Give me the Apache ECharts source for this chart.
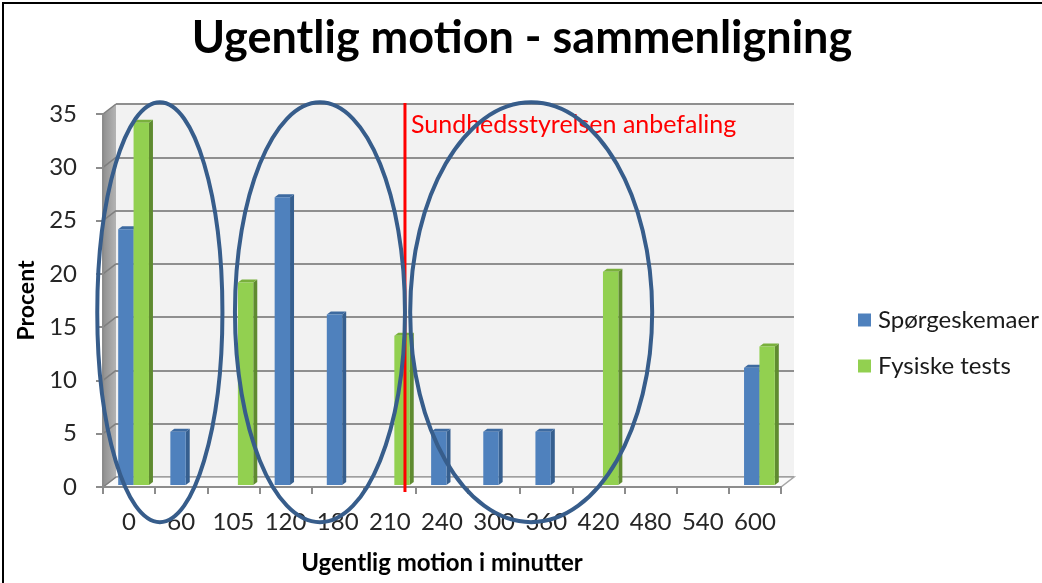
<!DOCTYPE html>
<html>
<head>
<meta charset="utf-8">
<title>Ugentlig motion - sammenligning</title>
<script src="https://cdn.jsdelivr.net/npm/echarts@6/dist/echarts.min.js"></script>
<style>
  html, body { margin: 0; padding: 0; background: #ffffff; }
  #chart { width: 1042px; height: 583px; }
</style>
</head>
<body>
<div id="chart"></div>
<script>
// Weekly exercise categories (minutes per week)
const categories = ['0', '60', '105', '120', '180', '210', '240', '300', '360', '420', '480', '540', '600'];
// Share of respondents (%) per category; null = no column
const sporgeskemaer = [24, 5, null, 27, 16, null, 5, 5, 5, null, null, null, 11];
const fysiskeTests  = [34, null, 19, null, null, 14, null, null, null, 20, null, null, 13];
const seriesNames = ['Spørgeskemaer', 'Fysiske tests'];
// Value axis
const yMin = 0, yMax = 35, yStep = 5;
// Recommendation marker (position on the category axis, between 210 and 240)
const recommendationPos = 5.29;
const recommendationText = 'Sundhedsstyrelsen anbefaling';
// Hand-drawn rings: centre / half-width in category units, centre / half-height in percent
const ringCentre = [0.59, 3.66, 7.71];
const ringHalfWidth = [1.20, 1.63, 2.32];
const ringMidValue = 16.4;
const ringHalfValue = 19.7;

const FONT = 'Lato';
const GRID = { left: 103, top: 114, width: 678, height: 373 };
const DEPTH = { x: 13, y: -10 };
const BAR_SHIFT = { x: 4.5, y: -2 };
const FACE = { d: 4, dz: 3 };

const palette = [
  { front: '#4f81bd', side: '#365f8f', top: '#3d6aa0' },
  { front: '#92d050', side: '#5f8b30', top: '#79b03c' }
];

function barRenderer(pos) {
  const c = palette[pos];
  return function (params, api) {
    const v = api.value(1);
    if (v == null || isNaN(v)) return null;
    const idx = api.value(0);
    const base = api.coord([idx, 0]);
    const topPt = api.coord([idx, v]);
    const band = api.size([1, 0])[0];
    const w = band * 0.295;
    const x0 = base[0] + BAR_SHIFT.x + (pos - 1) * w;
    const x1 = x0 + w;
    const yb = base[1] + BAR_SHIFT.y;
    const yt = topPt[1] + BAR_SHIFT.y;
    const d = FACE.d, dz = FACE.dz;
    return {
      type: 'group',
      children: [
        { type: 'polygon', shape: { points: [[x1, yb], [x1 + d, yb - dz], [x1 + d, yt - dz], [x1, yt]] }, style: { fill: c.side } },
        { type: 'polygon', shape: { points: [[x0, yt], [x0 + d, yt - dz], [x1 + d, yt - dz], [x1, yt]] }, style: { fill: c.top } },
        { type: 'rect', shape: { x: x0, y: yt, width: w, height: yb - yt }, style: { fill: c.front } }
      ]
    };
  };
}

function toPairs(arr) {
  return arr.map(function (v, i) { return [i, v == null ? '-' : v]; });
}

const chart = echarts.init(document.getElementById('chart'), null, { renderer: 'canvas' });

const option = {
  animation: false,
  backgroundColor: '#ffffff',
  textStyle: { fontFamily: FONT },
  title: {
    text: 'Ugentlig motion - sammenligning',
    left: 517, top: 11, textAlign: 'center',
    textStyle: { fontFamily: FONT, fontWeight: 'bold', fontSize: 45, color: '#000000' }
  },
  legend: {
    orient: 'vertical',
    left: 853, top: 303,
    itemWidth: 13, itemHeight: 13, itemGap: 22,
    icon: 'rect',
    data: seriesNames,
    textStyle: { fontFamily: FONT, fontSize: 24, color: '#1a1a1a', padding: [0, 0, 0, 2] }
  },
  grid: [
    { left: GRID.left, top: GRID.top, width: GRID.width, height: GRID.height, containLabel: false },
    { left: GRID.left + DEPTH.x, top: GRID.top + DEPTH.y, width: GRID.width, height: GRID.height,
      show: true, backgroundColor: '#f2f2f2', borderWidth: 0, z: 0 }
  ],
  xAxis: [
    {
      type: 'category', gridIndex: 0, data: categories,
      name: 'Ugentlig motion i minutter', nameLocation: 'middle', nameGap: 64,
      nameTextStyle: { fontFamily: FONT, fontWeight: 'bold', fontSize: 24, color: '#000000' },
      axisLine: { lineStyle: { color: '#8c8c8c', width: 2 } },
      axisTick: { show: true, interval: 0, length: 7, lineStyle: { color: '#8c8c8c', width: 2 } },
      axisLabel: { interval: 0, margin: 23, fontFamily: FONT, fontSize: 24, color: '#262626' },
      splitLine: { show: false }, z: 3
    },
    {
      type: 'category', gridIndex: 1, data: categories,
      axisLine: { show: false }, axisTick: { show: false }, axisLabel: { show: false }, splitLine: { show: false }
    }
  ],
  yAxis: [
    {
      type: 'value', gridIndex: 0, min: yMin, max: yMax, interval: yStep,
      name: 'Procent', nameLocation: 'middle', nameGap: 64, nameRotate: 90,
      nameTextStyle: { fontFamily: FONT, fontWeight: 'bold', fontSize: 23, color: '#000000' },
      axisLine: { show: true, lineStyle: { color: '#8c8c8c', width: 2 } },
      axisTick: { show: true, length: 7, lineStyle: { color: '#8c8c8c', width: 2 } },
      axisLabel: { margin: 26, fontFamily: FONT, fontSize: 24, color: '#262626' },
      splitLine: { show: false }, z: 3
    },
    {
      type: 'value', gridIndex: 1, min: yMin, max: yMax, interval: yStep,
      axisLine: { show: false }, axisTick: { show: false }, axisLabel: { show: false },
      splitLine: { show: true, lineStyle: { color: '#8f8f8f', width: 2 } }
    }
  ],
  series: [
    {
      name: seriesNames[0], type: 'custom', xAxisIndex: 0, yAxisIndex: 0,
      renderItem: barRenderer(0), encode: { x: 0, y: 1 },
      itemStyle: { color: palette[0].front }, data: toPairs(sporgeskemaer), z: 5
    },
    {
      name: seriesNames[1], type: 'custom', xAxisIndex: 0, yAxisIndex: 0,
      renderItem: barRenderer(1), encode: { x: 0, y: 1 },
      itemStyle: { color: palette[1].front }, data: toPairs(fysiskeTests), z: 6
    }
  ]
};

chart.setOption(option);

// Walls, recommendation marker and rings, placed through the axes
function px(catPos, value) {
  const a = chart.convertToPixel({ xAxisIndex: 0, yAxisIndex: 0 }, [0, value]);
  const b = chart.convertToPixel({ xAxisIndex: 0, yAxisIndex: 0 }, [1, value]);
  return [a[0] + (b[0] - a[0]) * catPos, a[1]];
}

const leftX = GRID.left, rightX = GRID.left + GRID.width;
const y0 = chart.convertToPixel({ yAxisIndex: 0 }, yMin);
const yTop = chart.convertToPixel({ yAxisIndex: 0 }, yMax);
const dx = DEPTH.x, dy = DEPTH.y;

const graphics = [];
// side wall
graphics.push({
  type: 'polygon', z: 1,
  shape: { points: [[leftX, yTop], [leftX + dx, yTop + dy], [leftX + dx, y0 + dy], [leftX, y0]] },
  style: {
    fill: new echarts.graphic.LinearGradient(0, 0, 1, 0, [
      { offset: 0, color: '#8f8f8f' }, { offset: 1, color: '#b4b4b4' }
    ])
  }
});
// grid lines running over the side wall
for (let v = yMin; v <= yMax; v += yStep) {
  const yy = chart.convertToPixel({ yAxisIndex: 0 }, v);
  graphics.push({
    type: 'line', z: 2,
    shape: { x1: leftX, y1: yy, x2: leftX + dx, y2: yy + dy },
    style: { stroke: '#7f7f7f', lineWidth: 1.5 }
  });
}
// floor
graphics.push({
  type: 'polygon', z: 1,
  shape: { points: [[leftX, y0], [leftX + dx, y0 + dy], [rightX + dx, y0 + dy], [rightX, y0]] },
  style: { fill: '#fafafa', stroke: '#a6a6a6', lineWidth: 1.5 }
});
// recommendation line + label
const recBottom = px(recommendationPos, yMin);
const recTop = px(recommendationPos, yMax);
graphics.push({
  type: 'line', z: 20,
  shape: { x1: recBottom[0], y1: recTop[1] + dy - 1, x2: recBottom[0], y2: recBottom[1] + 5 },
  style: { stroke: '#ff0000', lineWidth: 3 }
});
graphics.push({
  type: 'text', z: 20,
  style: {
    x: recBottom[0] + 6, y: recTop[1] + 11, text: recommendationText,
    fill: '#ff0000', font: '25px ' + FONT, textVerticalAlign: 'middle', verticalAlign: 'middle'
  }
});
// rings
for (let i = 0; i < ringCentre.length; i++) {
  const c = px(ringCentre[i], ringMidValue);
  const e = px(ringCentre[i] + ringHalfWidth[i], ringMidValue + ringHalfValue);
  graphics.push({
    type: 'ellipse', z: 30,
    shape: { cx: c[0], cy: c[1], rx: e[0] - c[0], ry: c[1] - e[1] },
    style: { fill: 'none', stroke: '#375d8b', lineWidth: 4 }
  });
}
// outer frame
graphics.push({
  type: 'rect', z: 40,
  shape: { x: 3, y: 3, width: 1200, height: 800 },
  style: { fill: 'none', stroke: '#000000', lineWidth: 2 }
});

chart.setOption({ graphic: { elements: graphics } });
</script>
</body>
</html>
